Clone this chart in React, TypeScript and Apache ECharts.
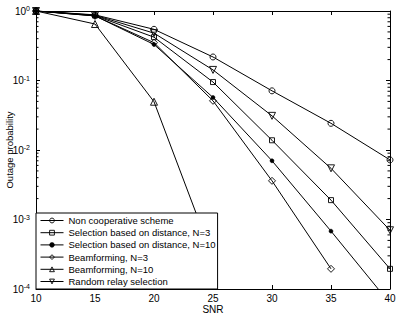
import React, { useEffect, useRef } from "react";
import * as echarts from "echarts";

const snr = [10, 15, 20, 25, 30, 35, 40];
const nonCoop = [1, 0.88, 0.545, 0.218, 0.071, 0.0242, 0.0072];
const selN3 = [1, 0.86, 0.42, 0.095, 0.0138, 0.0019, 0.000195];
const selN10 = [1, 0.85, 0.33, 0.057, 0.007, 0.00068, 0.000062];
const beamN3 = [1, 0.85, 0.35, 0.051, 0.0036, 0.000195];
const beamN10 = [1, 0.65, 0.0495, 0.00028];
const randomSel = [1, 0.87, 0.48, 0.142, 0.031, 0.00545, 0.0007];

const names = [
  "Non cooperative scheme",
  "Selection based on distance, N=3",
  "Selection based on distance, N=10",
  "Beamforming, N=3",
  "Beamforming, N=10",
  "Random relay selection",
];
const xTicks = { min: 10, max: 40, interval: 5 };
const minorTickValues: number[] = [];
for (let e = -4; e < 0; e++) {
  for (let m = 2; m <= 9; m++) minorTickValues.push(m * Math.pow(10, e));
}

const FONT = "'Liberation Sans', Arial, sans-serif";
const TRI_DOWN = "path://M0,0L10,0L5,9Z";

export default function App() {
  const ref = useRef<HTMLDivElement>(null);
  useEffect(() => {
    if (!ref.current) return;
    const chart = echarts.init(ref.current, undefined, { renderer: "svg" });
    const mk = (vals: number[]) => vals.map((v, i) => [snr[i], v]);
    const hollow = { color: "rgba(0,0,0,0)", borderColor: "#000", borderWidth: 0.9 };
    const solid = { color: "#000", borderColor: "#000", borderWidth: 0.5 };
    const lineSeries = (name: string, vals: number[], symbol: string, size: number, filled = false) => ({
      name,
      type: "line",
      data: mk(vals),
      symbol,
      symbolSize: size,
      showAllSymbol: true,
      lineStyle: { color: "#000", width: 1 },
      itemStyle: filled ? solid : hollow,
      emphasis: { disabled: true },
      z: 3,
    });
    const legendData = names.map((n, i) => ({
      name: n,
      itemStyle: i === 2 ? solid : hollow,
      lineStyle: { color: "#000", width: 1 },
    }));
    const option: any = {
      animation: false,
      textStyle: { fontFamily: FONT },
      grid: { left: 36, right: 9, top: 11, bottom: 27, show: false, containLabel: false, outerBoundsMode: "none" },
      legend: {
        data: legendData,
        orient: "vertical",
        left: 36,
        bottom: 27,
        backgroundColor: "#fff",
        borderColor: "#000",
        borderWidth: 1,
        borderRadius: 0,
        padding: [2, 2, 2, 4],
        itemGap: 1.2,
        itemWidth: 23,
        itemHeight: 6,
        selectedMode: false,
        itemStyle: hollow,
        lineStyle: { color: "#000", width: 1 },
        textStyle: { fontFamily: FONT, fontSize: 9.5, color: "#000", lineHeight: 11 },
        z: 10,
      },
      xAxis: [
        {
          type: "value",
          ...xTicks,
          name: "SNR",
          nameLocation: "middle",
          nameGap: 15,
          nameMoveOverlap: false,
          nameTextStyle: { fontFamily: FONT, fontSize: 10, color: "#000" },
          axisLine: { lineStyle: { color: "#000", width: 1 } },
          axisTick: { inside: true, length: 4, lineStyle: { color: "#000" } },
          axisLabel: { fontFamily: FONT, fontSize: 10, color: "#000", margin: 4 },
          splitLine: { show: false },
        },
        {
          type: "value",
          position: "top",
          ...xTicks,
          axisLine: { lineStyle: { color: "#000", width: 1 } },
          axisTick: { inside: true, length: 4, lineStyle: { color: "#000" } },
          axisLabel: { show: false },
          splitLine: { show: false },
        },
      ],
      yAxis: [
        {
          type: "log",
          logBase: 10,
          min: 0.0001,
          max: 1,
          interval: 1,
          name: "Outage probability",
          nameLocation: "middle",
          nameGap: 22,
          nameMoveOverlap: false,
          nameTextStyle: { fontFamily: FONT, fontSize: 9.5, color: "#000" },
          axisLine: { lineStyle: { color: "#000", width: 1 } },
          axisTick: { inside: true, length: 4, lineStyle: { color: "#000" } },
          axisLabel: {
            margin: 6,
            formatter: (v: number) => `{b|10}{s|${Math.round(Math.log10(v))}}`,
            rich: {
              b: { fontFamily: FONT, fontSize: 10, color: "#000", lineHeight: 12 },
              s: { fontFamily: FONT, fontSize: 7, color: "#000", verticalAlign: "top", lineHeight: 12, padding: [0, 0, 6, 0] },
            },
          },
          splitLine: { show: false },
        },
        {
          type: "log",
          logBase: 10,
          min: 0.0001,
          max: 1,
          interval: 1,
          position: "right",
          axisLine: { lineStyle: { color: "#000", width: 1 } },
          axisTick: { inside: true, length: 4, lineStyle: { color: "#000" } },
          axisLabel: { show: false },
          splitLine: { show: false },
        },
      ],
      series: [
        lineSeries(names[0], nonCoop, "circle", 6),
        lineSeries(names[1], selN3, "rect", 5),
        lineSeries(names[2], selN10, "circle", 4, true),
        lineSeries(names[3], beamN3, "diamond", 7),
        lineSeries(names[4], beamN10, "triangle", 7),
        lineSeries(names[5], randomSel, TRI_DOWN, 7),
        {
          type: "custom",
          silent: true,
          z: 1,
          data: minorTickValues.map((v) => [10, v]),
          renderItem: (params: any, api: any) => {
            const v = api.value(1);
            const l = api.coord([10, v]);
            const r = api.coord([40, v]);
            return {
              type: "group",
              children: [
                { type: "line", shape: { x1: l[0], y1: l[1], x2: l[0] + 2.5, y2: l[1] }, style: { stroke: "#000", lineWidth: 1 } },
                { type: "line", shape: { x1: r[0], y1: r[1], x2: r[0] - 2.5, y2: r[1] }, style: { stroke: "#000", lineWidth: 1 } },
              ],
            };
          },
        },
      ],
    };
    chart.setOption(option);
    return () => chart.dispose();
  }, []);
  return <div ref={ref} style={{ width: 399, height: 316, position: "absolute", left: 0, top: 0, background: "#fff" }} />;
}
